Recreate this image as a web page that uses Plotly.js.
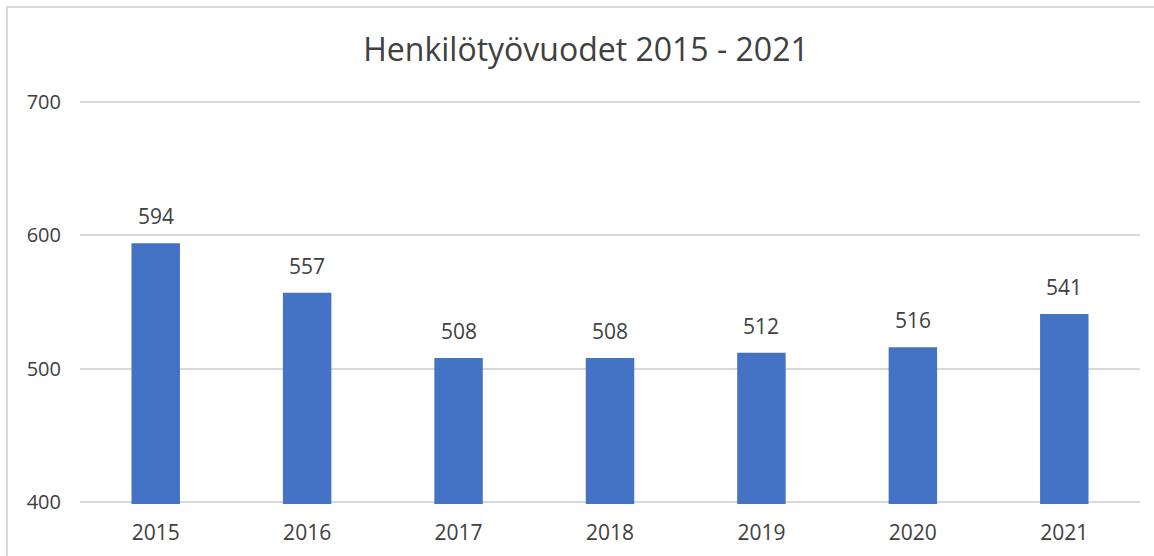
<!DOCTYPE html>
<html>
<head>
<meta charset="utf-8">
<script src="https://cdn.plot.ly/plotly-3.0.1.min.js"></script>
<style>
  html, body { margin: 0; padding: 0; background: #fff; }
  #wrap { position: relative; width: 1154px; height: 556px; overflow: hidden; }
  #chart { width: 1154px; height: 556px; }
  #frame { position: absolute; left: 6px; top: 6px; right: -4px; bottom: -4px; border-top: 2px solid #d9d9d9; border-left: 2px solid #d9d9d9; pointer-events: none; }
</style>
</head>
<body>
<div id="wrap">
  <div id="chart"></div>
  <div id="frame"></div>
</div>
<script>
const years = ['2015', '2016', '2017', '2018', '2019', '2020', '2021'];
const values = [594, 557, 508, 508, 512, 516, 541];
const yTicks = [400, 500, 600, 700];
const chartTitle = 'Henkilötyövuodet 2015 - 2021';

const fontFam = '"Open Sans", "Liberation Sans", sans-serif';
const textColor = '#404040';

const trace = {
  type: 'bar',
  x: years,
  y: values,
  marker: { color: '#4472C4' },
  hoverinfo: 'x+y'
};

const annotations = years.map((yr, i) => ({
  x: i,
  y: values[i],
  xref: 'x',
  yref: 'y',
  text: String(values[i]),
  showarrow: false,
  yanchor: 'bottom',
  yshift: 11,
  font: { family: fontFam, size: 21, color: textColor }
}));

const layout = {
  width: 1154,
  height: 556,
  margin: { l: 80, r: 14, t: 100, b: 52 },
  paper_bgcolor: '#ffffff',
  plot_bgcolor: '#ffffff',
  showlegend: false,
  bargap: 0.68,
  title: {
    text: chartTitle,
    x: 586 / 1154,
    xanchor: 'center',
    y: 1 - 50 / 556,
    yanchor: 'middle',
    font: { family: fontFam, size: 32, color: textColor }
  },
  xaxis: {
    type: 'category',
    range: [-0.5, years.length - 0.5],
    showgrid: false,
    showline: false,
    zeroline: false,
    ticks: '',
    ticklabelstandoff: 14,
    tickfont: { family: fontFam, size: 21, color: textColor }
  },
  yaxis: {
    range: [398.5, 701.5],
    tickvals: yTicks,
    ticktext: yTicks.map(String),
    showgrid: true,
    gridcolor: '#d9d9d9',
    gridwidth: 2,
    zeroline: false,
    showline: false,
    ticks: '',
    ticklabelstandoff: 18,
    tickfont: { family: fontFam, size: 20, color: textColor }
  },
  annotations: annotations
};

Plotly.newPlot('chart', [trace], layout, { displayModeBar: false, staticPlot: true });
</script>
</body>
</html>
